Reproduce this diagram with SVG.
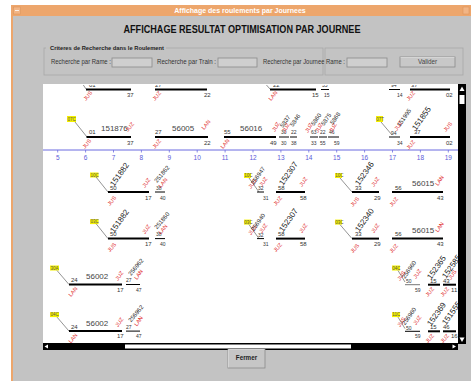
<svg xmlns="http://www.w3.org/2000/svg" width="472" height="381" viewBox="0 0 472 381">
<style>
text{font-family:"Liberation Sans",Arial,sans-serif}
.lb{font-size:6px;fill:#333}
.sm{font-size:5px;fill:#333}
.nm{font-size:8px;fill:#444}
.rd{font-size:5.5px;fill:#e02828}
.rb{font-size:6px;fill:#222}
.bg{font-size:8px;fill:#222}
.th{stroke:#000;stroke-width:2}
.tn{stroke:#000;stroke-width:1}
.dg{stroke:#666;stroke-width:0.7}
.yl{fill:#f4f000}
.yt{font-size:4.5px;fill:#555}
.axt{font-size:6.5px;fill:#5a5ad8;text-anchor:middle}
.ui{font-size:6.3px;fill:#333}
.inp{fill:#cfcfcf;stroke:#8a8a8a;stroke-width:0.8}
.etch{fill:none;stroke:#a8a8a8;stroke-width:0.8}
</style>
<defs>
<clipPath id="cv"><rect x="43" y="85" width="415" height="258"/></clipPath>
</defs>
<rect x="0" y="0" width="472" height="381" fill="#ffffff"/>
<g id="window">
<rect x="11" y="5" width="460" height="376" fill="#c3c3c3"/>
<rect x="11" y="5" width="460" height="11" fill="#eda66c"/>
<rect x="11" y="5" width="2" height="376" fill="#eda66c"/>
<rect x="13.5" y="7" width="7" height="7" fill="#f2b585" stroke="#d98f55" stroke-width="0.5"/>
<line x1="15" y1="10.5" x2="19" y2="10.5" stroke="#fff" stroke-width="0.8"/>
<rect x="463" y="7" width="6" height="7" fill="#f2b585" stroke="#d98f55" stroke-width="0.5"/>
<text x="240" y="13.3" text-anchor="middle" style="font-size:7px;font-weight:bold;fill:#fff">Affichage des roulements par Journees</text>
<text x="242" y="33" text-anchor="middle" textLength="237" lengthAdjust="spacingAndGlyphs" style="font-size:10px;font-weight:bold;fill:#111">AFFICHAGE RESULTAT OPTIMISATION PAR JOURNEE</text>
</g>
<g id="criteria">
<rect x="44" y="48" width="279" height="27" class="etch"/>
<rect x="46" y="45" width="120" height="6" fill="#c3c3c3"/>
<text x="50" y="50" textLength="114" lengthAdjust="spacingAndGlyphs" style="font-size:6px;font-weight:bold;fill:#222">Criteres de Recherche dans le Roulement</text>
<text x="51" y="64" class="ui" textLength="60" lengthAdjust="spacingAndGlyphs">Recherche par Rame :</text>
<rect x="112" y="58" width="40" height="9" class="inp"/>
<text x="157" y="64" class="ui" textLength="59" lengthAdjust="spacingAndGlyphs">Recherche par Train :</text>
<rect x="218" y="58" width="39" height="9" class="inp"/>
<text x="263" y="64" class="ui" textLength="82" lengthAdjust="spacingAndGlyphs">Recherche par Journee Rame :</text>
<rect x="347" y="58" width="40" height="9" class="inp"/>
<rect x="325" y="48" width="138" height="27" class="etch"/>
<g id="valider">
<rect x="400" y="57" width="55" height="10" fill="#c8c8c8" stroke="#8a8a8a" stroke-width="0.8"/>
<line x1="400.5" y1="57.5" x2="454.5" y2="57.5" stroke="#eee" stroke-width="0.6"/>
<text x="427.5" y="64.3" text-anchor="middle" class="ui" style="fill:#444">Valider</text>
</g>
</g>
<rect x="43" y="84" width="415" height="260" fill="#ffffff"/>
<g id="canvas" clip-path="url(#cv)">
<g id="axis">
<line x1="43" y1="150" x2="458" y2="150" stroke="#6b6be0" stroke-width="1"/>
<g stroke="#6b6be0" stroke-width="0.8">
<line x1="57.7" y1="150" x2="57.7" y2="152.5"/><line x1="85.6" y1="150" x2="85.6" y2="152.5"/><line x1="113.5" y1="150" x2="113.5" y2="152.5"/><line x1="141.4" y1="150" x2="141.4" y2="152.5"/><line x1="169.3" y1="150" x2="169.3" y2="152.5"/><line x1="197.2" y1="150" x2="197.2" y2="152.5"/><line x1="225.1" y1="150" x2="225.1" y2="152.5"/><line x1="253" y1="150" x2="253" y2="152.5"/><line x1="280.9" y1="150" x2="280.9" y2="152.5"/><line x1="308.8" y1="150" x2="308.8" y2="152.5"/><line x1="336.7" y1="150" x2="336.7" y2="152.5"/><line x1="364.6" y1="150" x2="364.6" y2="152.5"/><line x1="392.5" y1="150" x2="392.5" y2="152.5"/><line x1="420.4" y1="150" x2="420.4" y2="152.5"/><line x1="448.3" y1="150" x2="448.3" y2="152.5"/>
</g>
<text x="57.7" y="160" class="axt">5</text><text x="85.6" y="160" class="axt">6</text><text x="113.5" y="160" class="axt">7</text><text x="141.4" y="160" class="axt">8</text><text x="169.3" y="160" class="axt">9</text><text x="197.2" y="160" class="axt">10</text><text x="225.1" y="160" class="axt">11</text><text x="253" y="160" class="axt">12</text><text x="280.9" y="160" class="axt">13</text><text x="308.8" y="160" class="axt">14</text><text x="336.7" y="160" class="axt">15</text><text x="364.6" y="160" class="axt">16</text><text x="392.5" y="160" class="axt">17</text><text x="420.4" y="160" class="axt">18</text><text x="448.3" y="160" class="axt">19</text>
</g>

<g id="rowA">
<line x1="80" y1="80" x2="86" y2="89" class="dg"/>
<text x="89" y="86.5" class="lb">01</text><text x="101" y="83" class="nm">151876</text>
<line x1="86" y1="89.5" x2="131" y2="89.5" class="th"/>
<text x="127" y="97" class="lb">37</text>
<text transform="translate(86,101) rotate(-50)" class="rd">JUS</text>
<text x="155" y="86.5" class="lb">27</text><text x="172" y="83" class="nm">56005</text>
<line x1="155" y1="89.5" x2="207" y2="89.5" class="th"/>
<text x="204" y="97" class="lb">22</text>
<text transform="translate(155,101) rotate(-50)" class="rd">JUZ</text>
<line x1="262" y1="80" x2="270" y2="89" class="dg"/>
<text x="273" y="86.5" class="lb">22</text><text x="288" y="83" class="nm">56008</text>
<line x1="270" y1="89.5" x2="316" y2="89.5" class="th"/>
<text x="312" y="97" class="lb">15</text>
<text transform="translate(271,101) rotate(-50)" class="rd">LAN</text>
<text x="322" y="87" class="sm">35</text>
<line x1="321" y1="89.5" x2="329" y2="89.5" class="tn"/>
<text x="324" y="97" class="sm">15</text>
<text x="391" y="87" class="sm">94</text>
<line x1="389" y1="89.5" x2="400" y2="89.5" class="tn"/>
<text x="397" y="97" class="sm">14</text>
<text x="411" y="87" class="lb">37</text>
<line x1="410" y1="89.5" x2="450" y2="89.5" class="th"/>
<text x="446" y="97" class="lb">02</text>
<text transform="translate(409,101) rotate(-50)" class="rd">JUZ</text>
</g>

<g id="row2">
<rect x="67" y="116" width="9" height="6" class="yl"/><text x="67.5" y="120.5" class="yt">07C</text>
<line x1="75" y1="122" x2="87" y2="137" class="dg"/>
<text x="89" y="134" class="lb">01</text><text x="101" y="131" class="nm">151876</text>
<text transform="translate(128,132) rotate(-50)" class="rd">JUZ</text>
<line x1="86.5" y1="137" x2="131" y2="137" class="th"/>
<text x="127" y="144.5" class="lb">37</text>
<text transform="translate(85,149) rotate(-50)" class="rd">JUS</text>
<text x="155" y="134" class="lb">27</text><text x="172" y="131" class="nm">56005</text>
<text transform="translate(204,130) rotate(-50)" class="rd">LAN</text>
<line x1="155" y1="137" x2="208" y2="137" class="th"/>
<text x="204" y="144.5" class="lb">22</text>
<text transform="translate(155,149) rotate(-50)" class="rd">JUZ</text>
<text x="224" y="134" class="lb">55</text><text x="240" y="131" class="nm">56016</text>
<line x1="224" y1="137" x2="276" y2="137" class="th"/>
<text x="270" y="144.5" class="lb">49</text>
<text transform="translate(223,149) rotate(-50)" class="rd">LAN</text>
<text x="281" y="134" class="sm">30</text><line x1="279" y1="137" x2="289" y2="137" class="tn"/><text x="281" y="144.5" class="sm">30</text>
<text transform="translate(275,132) rotate(-60)" class="rd">JUZ</text><text transform="translate(283,128) rotate(-55)" class="rb">5837</text>
<text x="291" y="134" class="sm">22</text><line x1="290" y1="137" x2="297" y2="137" class="tn"/><text x="291" y="144.5" class="sm">38</text>
<text transform="translate(285,133) rotate(-60)" class="rd">JUZ</text><text transform="translate(293,127) rotate(-55)" class="rb">5846</text>
<text x="311" y="134" class="sm">63</text><line x1="310" y1="137" x2="318" y2="137" class="tn"/><text x="311" y="144.5" class="sm">33</text>
<text transform="translate(308,133) rotate(-60)" class="rd">JUZ</text><text transform="translate(314,126) rotate(-55)" class="rb">5860</text>
<text x="320" y="134" class="sm">22</text><line x1="319" y1="137" x2="327" y2="137" class="tn"/><text x="320" y="144.5" class="sm">55</text>
<text transform="translate(318,133) rotate(-60)" class="rd">JUZ</text><text transform="translate(324,126) rotate(-55)" class="rb">5875</text>
<text x="329" y="134" class="sm">46</text><line x1="328" y1="137" x2="339" y2="137" class="tn"/><text x="334" y="144.5" class="sm">59</text>
<text transform="translate(332,133) rotate(-60)" class="rd">JUZ</text><text transform="translate(333,125) rotate(-55)" class="rb">5868</text>
<rect x="376" y="116" width="7" height="6" class="yl"/><text x="376.3" y="120.5" class="yt">07T</text>
<line x1="381" y1="122" x2="392" y2="135" class="dg"/>
<text x="391" y="135" class="sm">94</text>
<line x1="389" y1="137" x2="400" y2="137" class="tn"/>
<text x="397" y="144.5" class="sm">34</text>
<text transform="translate(397,131) rotate(-55)" class="rd">JUZ</text>
<text transform="translate(400,127) rotate(-55)" class="rb">151995</text>
<text x="414" y="134" class="lb">37</text>
<text transform="translate(416,131) rotate(-55)" class="bg">151855</text>
<line x1="410" y1="137" x2="450" y2="137" class="th"/>
<text x="446" y="144.5" class="lb">02</text>
<text transform="translate(446,132) rotate(-50)" class="rd">JUS</text>
<text transform="translate(409,150) rotate(-50)" class="rd">JUZ</text>
</g>

<g id="row3">
<rect x="90" y="172.5" width="8.5" height="5" class="yl"/><text x="90.5" y="176.5" class="yt">10C</text>
<line x1="96" y1="177" x2="108" y2="192" class="dg"/>
<text x="110" y="189.5" class="lb">50</text>
<text transform="translate(114,187) rotate(-55)" class="bg">151882</text>
<line x1="108" y1="192" x2="149" y2="192" class="th"/>
<text x="145" y="199.5" class="lb">17</text>
<text transform="translate(110,206) rotate(-50)" class="rd">JUS</text>
<text transform="translate(145,188) rotate(-55)" class="rd">JUZ</text>
<text x="156" y="189.5" class="sm">38</text>
<line x1="155" y1="192" x2="165" y2="192" class="tn"/>
<text x="160" y="199.5" class="sm">40</text>
<text transform="translate(157,183) rotate(-50)" class="rb">251862</text>
<text transform="translate(161,188) rotate(-50)" class="rd">LAN</text>
<rect x="244" y="173" width="7" height="5" class="yl"/><text x="244.2" y="177" class="yt">10C</text>
<line x1="249" y1="178" x2="259" y2="192" class="dg"/>
<text transform="translate(251,189) rotate(-55)" class="rd">JUS</text>
<text transform="translate(254,185) rotate(-55)" class="rb">256947</text>
<text transform="translate(262,187) rotate(-55)" class="rd">JUZ</text>
<text x="258" y="190" class="sm">32</text>
<line x1="257" y1="192" x2="264" y2="192" class="tn"/>
<text x="263" y="199.5" class="sm">31</text>
<text x="278" y="189.5" class="lb">58</text>
<text transform="translate(283,186) rotate(-55)" class="bg">152307</text>
<line x1="276" y1="192" x2="305" y2="192" class="th"/>
<text x="300" y="199.5" class="lb">58</text>
<text transform="translate(276,206) rotate(-50)" class="rd">JUZ</text>
<text transform="translate(302,187) rotate(-55)" class="rd">JUZ</text>
<rect x="335" y="173" width="7" height="5" class="yl"/><text x="335.2" y="177" class="yt">10C</text>
<line x1="340" y1="178" x2="352" y2="192" class="dg"/>
<text x="355" y="189.5" class="lb">33</text>
<text transform="translate(359,186) rotate(-55)" class="bg">152346</text>
<line x1="352" y1="192" x2="379" y2="192" class="th"/>
<text x="374" y="199.5" class="lb">29</text>
<text transform="translate(374,187) rotate(-55)" class="rd">JUZ</text>
<text transform="translate(353,207) rotate(-50)" class="rd">JUS</text>
<text x="395" y="189.5" class="lb">56</text>
<text x="412" y="186" class="nm">56015</text>
<line x1="392" y1="192" x2="443" y2="192" class="th"/>
<text x="437" y="199.5" class="lb">43</text>
<text transform="translate(438,186) rotate(-55)" class="rd">LAN</text>
<text transform="translate(392,207) rotate(-50)" class="rd">JUZ</text>
</g>

<g id="row4" transform="translate(0,46.6)">
<rect x="90" y="172.5" width="8.5" height="5" class="yl"/><text x="90.5" y="176.5" class="yt">03C</text>
<line x1="96" y1="177" x2="108" y2="192" class="dg"/>
<text x="110" y="189.5" class="lb">50</text>
<text transform="translate(114,187) rotate(-55)" class="bg">151882</text>
<line x1="108" y1="192" x2="149" y2="192" class="th"/>
<text x="145" y="199.5" class="lb">17</text>
<text transform="translate(110,206) rotate(-50)" class="rd">JUS</text>
<text transform="translate(145,188) rotate(-55)" class="rd">JUZ</text>
<text x="156" y="189.5" class="sm">38</text>
<line x1="155" y1="192" x2="165" y2="192" class="tn"/>
<text x="160" y="199.5" class="sm">40</text>
<text transform="translate(157,183) rotate(-50)" class="rb">251860</text>
<text transform="translate(161,188) rotate(-50)" class="rd">LAN</text>
<rect x="244" y="173" width="7" height="5" class="yl"/><text x="244.2" y="177" class="yt">03C</text>
<line x1="249" y1="178" x2="259" y2="192" class="dg"/>
<text transform="translate(251,189) rotate(-55)" class="rd">JUS</text>
<text transform="translate(254,185) rotate(-55)" class="rb">256940</text>
<text transform="translate(262,187) rotate(-55)" class="rd">JUZ</text>
<text x="258" y="190" class="sm">32</text>
<line x1="257" y1="192" x2="264" y2="192" class="tn"/>
<text x="263" y="199.5" class="sm">31</text>
<text x="278" y="189.5" class="lb">58</text>
<text transform="translate(283,186) rotate(-55)" class="bg">152307</text>
<line x1="276" y1="192" x2="305" y2="192" class="th"/>
<text x="300" y="199.5" class="lb">58</text>
<text transform="translate(276,206) rotate(-50)" class="rd">JUZ</text>
<text transform="translate(302,187) rotate(-55)" class="rd">JUZ</text>
<rect x="335" y="173" width="7" height="5" class="yl"/><text x="335.2" y="177" class="yt">03C</text>
<line x1="340" y1="178" x2="352" y2="192" class="dg"/>
<text x="355" y="189.5" class="lb">33</text>
<text transform="translate(359,186) rotate(-55)" class="bg">152340</text>
<line x1="352" y1="192" x2="379" y2="192" class="th"/>
<text x="374" y="199.5" class="lb">29</text>
<text transform="translate(374,187) rotate(-55)" class="rd">JUZ</text>
<text transform="translate(353,207) rotate(-50)" class="rd">JUS</text>
<text x="395" y="189.5" class="lb">56</text>
<text x="412" y="186" class="nm">56015</text>
<line x1="392" y1="192" x2="443" y2="192" class="th"/>
<text x="437" y="199.5" class="lb">43</text>
<text transform="translate(438,186) rotate(-55)" class="rd">LAN</text>
<text transform="translate(392,207) rotate(-50)" class="rd">JUZ</text>
</g>

<g id="row5">
<rect x="50" y="265.5" width="9" height="5" class="yl"/><text x="50.5" y="269.5" class="yt">30A</text>
<line x1="57" y1="270.5" x2="69" y2="284.5" class="dg"/>
<text x="71" y="282" class="lb">24</text><text x="86" y="279" class="nm">56002</text>
<line x1="69" y1="284.5" x2="122" y2="284.5" class="th"/>
<text x="117" y="291.5" class="lb">17</text>
<text transform="translate(71,297) rotate(-50)" class="rd">LAN</text>
<text transform="translate(118,281) rotate(-55)" class="rd">JUZ</text>
<text x="126" y="282" class="sm">27</text>
<line x1="126" y1="284.5" x2="140" y2="284.5" class="tn"/>
<text x="136" y="291.5" class="sm">47</text>
<text transform="translate(131,276) rotate(-50)" class="rb">256962</text>
<text transform="translate(137,280) rotate(-55)" class="rd">LAN</text>
<rect x="392" y="265.5" width="8" height="5" class="yl"/><text x="392.3" y="269.5" class="yt">04C</text>
<line x1="398" y1="270.5" x2="405" y2="282" class="dg"/>
<text transform="translate(400,281) rotate(-55)" class="rd">JUS</text>
<text transform="translate(405,279) rotate(-55)" class="rb">256960</text>
<text transform="translate(416,279) rotate(-55)" class="rd">JUZ</text>
<text x="406" y="283" class="sm">50</text>
<line x1="405" y1="284.7" x2="420" y2="284.7" stroke="#777" stroke-width="1"/>
<text x="415" y="291.5" class="sm">59</text>
<text transform="translate(431,280) rotate(-55)" class="bg">152365</text>
<text x="430" y="282.5" class="lb">15</text>
<line x1="428" y1="284.7" x2="440" y2="284.7" class="th"/>
<text transform="translate(428,297) rotate(-50)" class="rd">JUZ</text>
<text x="443" y="282.5" class="lb">43</text>
<text transform="translate(446,279) rotate(-55)" class="bg">152585</text>
<line x1="443" y1="284.7" x2="456" y2="284.7" class="th"/>
<text x="451" y="291.5" class="lb">11</text>
<text transform="translate(443,297) rotate(-50)" class="rd">JUZ</text>
<text transform="translate(451,280) rotate(-55)" class="rd">JUS</text>
</g>

<g id="row6" transform="translate(0,46.6)">
<rect x="50" y="265.5" width="9" height="5" class="yl"/><text x="50.5" y="269.5" class="yt">04C</text>
<line x1="57" y1="270.5" x2="69" y2="284.5" class="dg"/>
<text x="71" y="282" class="lb">24</text><text x="86" y="279" class="nm">56002</text>
<line x1="69" y1="284.5" x2="122" y2="284.5" class="th"/>
<text x="117" y="291.5" class="lb">17</text>
<text transform="translate(71,297) rotate(-50)" class="rd">LAN</text>
<text transform="translate(118,281) rotate(-55)" class="rd">JUZ</text>
<text x="126" y="282" class="sm">27</text>
<line x1="126" y1="284.5" x2="140" y2="284.5" class="tn"/>
<text x="136" y="291.5" class="sm">47</text>
<text transform="translate(131,276) rotate(-50)" class="rb">256962</text>
<text transform="translate(137,280) rotate(-55)" class="rd">LAN</text>
<rect x="392" y="265.5" width="8" height="5" class="yl"/><text x="392.3" y="269.5" class="yt">11C</text>
<line x1="398" y1="270.5" x2="405" y2="282" class="dg"/>
<text transform="translate(400,281) rotate(-55)" class="rd">JUS</text>
<text transform="translate(405,279) rotate(-55)" class="rb">256960</text>
<text transform="translate(416,279) rotate(-55)" class="rd">JUZ</text>
<text x="406" y="283" class="sm">50</text>
<line x1="405" y1="284.7" x2="420" y2="284.7" class="tn"/>
<text x="415" y="291.5" class="sm">59</text>
<text transform="translate(431,280) rotate(-55)" class="bg">152369</text>
<text x="430" y="282.5" class="lb">15</text>
<line x1="428" y1="284.7" x2="440" y2="284.7" class="th"/>
<text transform="translate(428,297) rotate(-50)" class="rd">JUZ</text>
<text x="443" y="282.5" class="lb">46</text>
<text transform="translate(446,279) rotate(-55)" class="bg">151555</text>
<line x1="443" y1="284.7" x2="456" y2="284.7" class="th"/>
<text x="451" y="291.5" class="lb">16</text>
<text transform="translate(443,297) rotate(-50)" class="rd">JUZ</text>
</g>
</g>

<g id="vscroll">
<rect x="458" y="84" width="8" height="260" fill="#000"/>
<rect x="459.5" y="95" width="5" height="9" fill="#fff"/>
<polygon points="462,86.5 459.5,91 464.5,91" fill="#fff"/>
<polygon points="462,342 459.5,337.5 464.5,337.5" fill="#fff"/>
</g>
<g id="hscroll">
<rect x="43" y="343" width="415" height="7" fill="#000"/>
<rect x="125" y="344.5" width="226" height="4" fill="#fff"/>
<polygon points="44.5,346.5 48,344.5 48,348.5" fill="#fff"/>
<polygon points="456,346.5 452.5,344.5 452.5,348.5" fill="#fff"/>
</g>
<g id="fermer">
<rect x="228" y="349" width="37" height="19" fill="#c6c6c6" stroke="#8a8a8a" stroke-width="0.8"/>
<line x1="228.5" y1="349.5" x2="264.5" y2="349.5" stroke="#eee" stroke-width="0.6"/>
<line x1="228.5" y1="349.5" x2="228.5" y2="367.5" stroke="#eee" stroke-width="0.6"/>
<text x="246.5" y="360" text-anchor="middle" style="font-size:6.3px;font-weight:bold;fill:#222">Fermer</text>
</g>
</svg>
